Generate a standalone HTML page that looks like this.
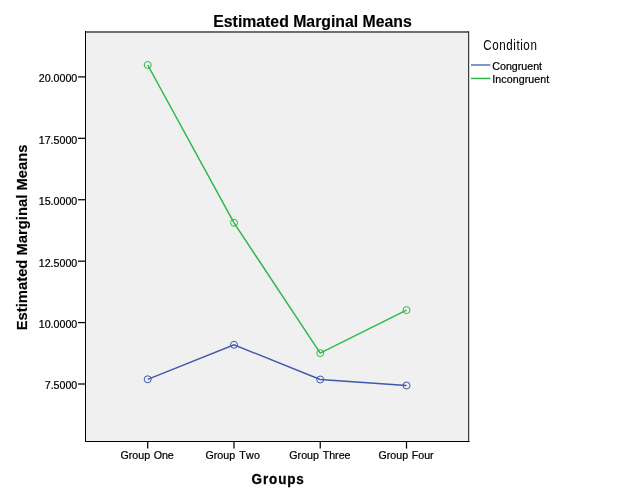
<!DOCTYPE html>
<html>
<head>
<meta charset="utf-8">
<title>Estimated Marginal Means</title>
<style>
html,body{margin:0;padding:0;background:#fff;}
body{width:626px;height:501px;overflow:hidden;}
svg{display:block;will-change:transform;}
text{font-family:"Liberation Sans",Arial,Helvetica,sans-serif;fill:#000;font-kerning:none;stroke:#000;stroke-width:0.22px;}
.b{stroke-width:0.15px;}
.tk{font-size:10.67px;}
.b{font-weight:bold;}
</style>
</head>
<body>
<svg width="626" height="501" viewBox="0 0 626 501">
  <rect x="0" y="0" width="626" height="501" fill="#ffffff"/>
  <!-- plot area -->
  <rect x="86" y="33" width="382" height="408" fill="#f0f0f0"/>
  <!-- frame: top/right anti-aliased grey, left/bottom black -->
  <rect x="85" y="31" width="384" height="2" fill="#6e6e6e"/>
  <rect x="468" y="31" width="1" height="411" fill="#3a3a3a"/>
  <rect x="469" y="31" width="1" height="411" fill="#000000" fill-opacity="0.16"/>
  <rect x="85" y="31" width="1" height="411" fill="#000000"/>
  <rect x="85" y="441" width="384.6" height="1" fill="#000000"/>

  <!-- y ticks -->
  <g stroke="#000" stroke-width="1.25">
    <line x1="78" x2="85" y1="76.9" y2="76.9"/>
    <line x1="78" x2="85" y1="138.32" y2="138.32"/>
    <line x1="78" x2="85" y1="199.74" y2="199.74"/>
    <line x1="78" x2="85" y1="261.16" y2="261.16"/>
    <line x1="78" x2="85" y1="322.58" y2="322.58"/>
    <line x1="78" x2="85" y1="384.0" y2="384.0"/>
  </g>
  <!-- x ticks -->
  <g stroke="#000" stroke-width="1.25">
    <line x1="147.7" x2="147.7" y1="442" y2="448.6"/>
    <line x1="233.97" x2="233.97" y1="442" y2="448.6"/>
    <line x1="320.24" x2="320.24" y1="442" y2="448.6"/>
    <line x1="406.5" x2="406.5" y1="442" y2="448.6"/>
  </g>

  <!-- y tick labels -->
  <g class="tk" text-anchor="end">
    <text x="77.3" y="82">20.0000</text>
    <text x="77.3" y="144">17.5000</text>
    <text x="77.3" y="205">15.0000</text>
    <text x="77.3" y="267">12.5000</text>
    <text x="77.3" y="328">10.0000</text>
    <text x="77.3" y="389">7.5000</text>
  </g>
  <!-- x tick labels -->
  <g class="tk">
    <text y="459"><tspan x="120.45">Group </tspan><tspan x="153.65">One</tspan></text>
    <text y="459"><tspan x="205.46">Group </tspan><tspan x="239.2" letter-spacing="0.3">Two</tspan></text>
    <text y="459"><tspan x="289.3">Group </tspan><tspan x="322.7">Three</tspan></text>
    <text y="459"><tspan x="378.45">Group </tspan><tspan x="411.75">Four</tspan></text>
  </g>

  <!-- series lines -->
  <polyline fill="none" stroke="#2eb848" stroke-width="1.5" points="147.7,65.0 234.0,222.8 320.2,353.1 406.5,310.1"/>
  <polyline fill="none" stroke="#3e58ac" stroke-width="1.35" points="147.7,379.3 234.0,344.8 320.2,379.5 406.5,385.5"/>
  <!-- markers -->
  <g fill="none" stroke="#2eb848" stroke-width="1">
    <circle cx="147.7" cy="65.0" r="3.5"/>
    <circle cx="234.0" cy="222.8" r="3.5"/>
    <circle cx="320.2" cy="353.1" r="3.5"/>
    <circle cx="406.5" cy="310.1" r="3.5"/>
  </g>
  <g fill="none" stroke="#3e58ac" stroke-width="1">
    <circle cx="147.7" cy="379.3" r="3.5"/>
    <circle cx="234.0" cy="344.8" r="3.5"/>
    <circle cx="320.2" cy="379.5" r="3.5"/>
    <circle cx="406.5" cy="385.5" r="3.5"/>
  </g>

  <!-- titles -->
  <text class="b" x="312.5" y="26.5" font-size="15.8" text-anchor="middle">Estimated Marginal Means</text>
  <text class="b" transform="translate(251.6,483.6) scale(0.9,1)" font-size="15" letter-spacing="0.95" style="stroke-width:0.3px">Groups</text>
  <text class="b" transform="translate(27,237.4) rotate(-90)" font-size="14.8" text-anchor="middle">Estimated Marginal Means</text>

  <!-- legend -->
  <text transform="translate(483.2,49.9) scale(0.84,1)" font-size="13.8" letter-spacing="0.7" style="stroke-width:0">Condition</text>
  <line x1="471" x2="490.4" y1="65" y2="65" stroke="#3e58ac" stroke-width="1.3"/>
  <line x1="471" x2="490.4" y1="78.45" y2="78.45" stroke="#2eb848" stroke-width="1.5"/>
  <text class="tk" x="492.3" y="69.8">Congruent</text>
  <text class="tk" x="492.3" y="83" letter-spacing="0.06">Incongruent</text>
</svg>
</body>
</html>
